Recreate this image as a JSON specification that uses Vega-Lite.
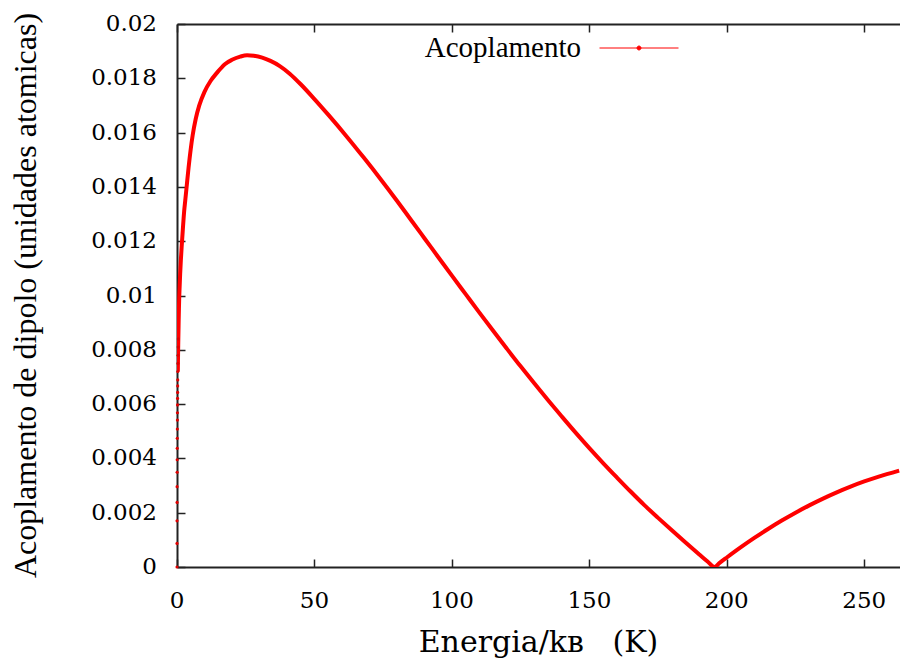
{
  "$schema": "https://vega.github.io/schema/vega-lite/v6.json",
  "width": 723,
  "height": 543,
  "autosize": {"type": "none"},
  "padding": {"left": 177, "top": 24, "right": 0, "bottom": 92},
  "background": "white",
  "config": {
    "view": {"stroke": null},
    "axis": {
      "domainColor": "#222222",
      "domainWidth": 2,
      "tickColor": "#222222",
      "tickWidth": 1.5,
      "grid": false
    },
    "legend": {
      "labelFont": "Liberation Serif, serif",
      "labelFontSize": 29,
      "labelColor": "#000000",
      "padding": 0
    }
  },
  "datasets": {
    "curve": [
      {"E": 0, "v": 0},
      {"E": 0.003, "v": 0.00087},
      {"E": 0.01, "v": 0.0017},
      {"E": 0.02, "v": 0.00238},
      {"E": 0.035, "v": 0.00296},
      {"E": 0.05, "v": 0.00349},
      {"E": 0.07, "v": 0.00395},
      {"E": 0.09, "v": 0.00437},
      {"E": 0.11, "v": 0.00474},
      {"E": 0.13, "v": 0.00508},
      {"E": 0.15, "v": 0.00541},
      {"E": 0.17, "v": 0.00568},
      {"E": 0.19, "v": 0.00597},
      {"E": 0.21, "v": 0.00621},
      {"E": 0.23, "v": 0.00643},
      {"E": 0.25, "v": 0.00667},
      {"E": 0.27, "v": 0.00689},
      {"E": 0.3, "v": 0.0072},
      {"E": 0.34, "v": 0.0075},
      {"E": 0.38, "v": 0.0078},
      {"E": 0.43, "v": 0.0081},
      {"E": 0.48, "v": 0.0084},
      {"E": 0.54, "v": 0.0087},
      {"E": 0.61, "v": 0.0091},
      {"E": 0.7, "v": 0.0095},
      {"E": 0.8, "v": 0.0099},
      {"E": 0.95, "v": 0.0103},
      {"E": 1.15, "v": 0.0108},
      {"E": 1.4, "v": 0.0113},
      {"E": 1.7, "v": 0.0118},
      {"E": 2.1, "v": 0.0124},
      {"E": 2.6, "v": 0.0131},
      {"E": 3.0, "v": 0.0135},
      {"E": 3.5, "v": 0.014},
      {"E": 4.2, "v": 0.0147},
      {"E": 5.0, "v": 0.0154},
      {"E": 5.7, "v": 0.0159},
      {"E": 6.8, "v": 0.0165},
      {"E": 8.1, "v": 0.017},
      {"E": 10, "v": 0.0175},
      {"E": 12.2, "v": 0.0179},
      {"E": 14.5, "v": 0.0182},
      {"E": 17.4, "v": 0.01852},
      {"E": 20, "v": 0.01868},
      {"E": 23, "v": 0.0188},
      {"E": 25.5, "v": 0.01885},
      {"E": 28, "v": 0.01883},
      {"E": 31, "v": 0.01876},
      {"E": 34, "v": 0.01864},
      {"E": 37.4, "v": 0.01845},
      {"E": 41, "v": 0.01817},
      {"E": 45, "v": 0.01778},
      {"E": 49.5, "v": 0.01729},
      {"E": 55, "v": 0.01666},
      {"E": 61.7, "v": 0.01586},
      {"E": 68, "v": 0.01507},
      {"E": 73.8, "v": 0.01432},
      {"E": 80, "v": 0.01349},
      {"E": 85, "v": 0.0128},
      {"E": 90, "v": 0.01211},
      {"E": 95, "v": 0.01142},
      {"E": 100, "v": 0.01073},
      {"E": 105, "v": 0.01005},
      {"E": 110, "v": 0.00937},
      {"E": 115, "v": 0.0087},
      {"E": 120, "v": 0.00804},
      {"E": 125, "v": 0.00739},
      {"E": 130, "v": 0.00676},
      {"E": 135, "v": 0.00614},
      {"E": 140, "v": 0.00554},
      {"E": 145, "v": 0.00495},
      {"E": 150, "v": 0.00438},
      {"E": 155, "v": 0.00383},
      {"E": 160, "v": 0.0033},
      {"E": 165, "v": 0.00278},
      {"E": 170, "v": 0.00228},
      {"E": 175, "v": 0.00181},
      {"E": 180, "v": 0.00135},
      {"E": 185, "v": 0.0009},
      {"E": 190, "v": 0.00046},
      {"E": 193, "v": 0.0002},
      {"E": 195.5, "v": 0},
      {"E": 197.5, "v": 0.00016},
      {"E": 200, "v": 0.00035},
      {"E": 205, "v": 0.00072},
      {"E": 210, "v": 0.00107},
      {"E": 215, "v": 0.0014},
      {"E": 220, "v": 0.00171},
      {"E": 225, "v": 0.002},
      {"E": 230, "v": 0.00227},
      {"E": 235, "v": 0.00252},
      {"E": 240, "v": 0.00275},
      {"E": 245, "v": 0.00296},
      {"E": 250, "v": 0.00315},
      {"E": 255, "v": 0.00332},
      {"E": 262.7, "v": 0.00355}
    ],
    "xticks": [{"t": 0}, {"t": 50}, {"t": 100}, {"t": 150}, {"t": 200}, {"t": 250}],
    "yticks": [{"t": 0}, {"t": 0.002}, {"t": 0.004}, {"t": 0.006}, {"t": 0.008}, {"t": 0.01}, {"t": 0.012}, {"t": 0.014}, {"t": 0.016}, {"t": 0.018}, {"t": 0.02}],
    "xtitle": [{"label": "Energia/kʙ\u00a0\u00a0\u00a0(K)", "E": 131.5, "v": 0}],
    "ytitle": [{"label": "Acoplamento de dipolo (unidades atomicas)", "E": 0, "v": 0.01}]
  },
  "layer": [
    {
      "data": {"name": "curve"},
      "transform": [{"filter": "datum.E >= 0.3"}],
      "mark": {"type": "line", "strokeWidth": 4, "clip": true, "interpolate": "monotone"},
      "encoding": {
        "x": {
          "field": "E",
          "type": "quantitative",
          "scale": {"domain": [0, 263], "nice": false, "zero": false},
          "axis": {
            "orient": "bottom",
            "values": [0, 50, 100, 150, 200, 250],
            "tickSize": -8,
            "labels": false,
            "title": null
          }
        },
        "y": {
          "field": "v",
          "type": "quantitative",
          "scale": {"domain": [0, 0.02], "nice": false},
          "axis": {
            "orient": "left",
            "values": [0, 0.002, 0.004, 0.006, 0.008, 0.01, 0.012, 0.014, 0.016, 0.018, 0.02],
            "tickSize": -8,
            "labels": false,
            "title": null
          }
        },
        "color": {
          "datum": "Acoplamento",
          "scale": {"range": ["#ff0000"]},
          "legend": {
            "title": null,
            "orient": "none",
            "legendX": 422,
            "legendY": -16,
            "symbolType": "M-1,0H1M-0.05,0A0.05,0.05,0,1,1,0.05,0A0.05,0.05,0,1,1,-0.05,0Z",
            "symbolSize": 6241,
            "symbolStrokeWidth": 1,
            "symbolFillColor": "#ff0000",
            "symbolStrokeColor": "#ff0000",
            "labelAlign": "right",
            "labelOffset": -98
          }
        }
      }
    },
    {
      "data": {"name": "curve"},
      "transform": [{"filter": "datum.E <= 0.5"}],
      "mark": {"type": "point", "filled": true, "color": "#e00000", "size": 10, "opacity": 1},
      "encoding": {
        "x": {
          "field": "E",
          "type": "quantitative",
          "axis": {
            "orient": "top",
            "values": [0, 50, 100, 150, 200, 250],
            "tickSize": -8,
            "labels": false,
            "title": null
          }
        },
        "y": {"field": "v", "type": "quantitative", "axis": null}
      }
    },
    {
      "data": {"name": "xticks"},
      "mark": {"type": "text", "font": "DejaVu Serif", "fontSize": 23, "color": "#000000", "align": "center", "baseline": "alphabetic", "dy": 41, "clip": false},
      "encoding": {
        "x": {"field": "t", "type": "quantitative", "axis": null},
        "y": {"datum": 0, "type": "quantitative", "axis": null},
        "text": {"field": "t", "type": "quantitative", "format": "~g"}
      }
    },
    {
      "data": {"name": "yticks"},
      "mark": {"type": "text", "font": "DejaVu Serif", "fontSize": 23, "color": "#000000", "align": "right", "baseline": "middle", "dx": -20, "clip": false},
      "encoding": {
        "x": {"datum": 0, "type": "quantitative", "axis": null},
        "y": {"field": "t", "type": "quantitative", "axis": null},
        "text": {"field": "t", "type": "quantitative", "format": "~g"}
      }
    },
    {
      "data": {"name": "xtitle"},
      "mark": {"type": "text", "font": "DejaVu Serif", "fontSize": 30, "color": "#000000", "align": "center", "baseline": "alphabetic", "dy": 85, "clip": false},
      "encoding": {
        "x": {"field": "E", "type": "quantitative", "axis": null},
        "y": {"field": "v", "type": "quantitative", "axis": null},
        "text": {"field": "label", "type": "nominal"}
      }
    },
    {
      "data": {"name": "ytitle"},
      "mark": {"type": "text", "font": "Liberation Serif, serif", "fontSize": 32, "color": "#000000", "align": "center", "baseline": "middle", "angle": 270, "dy": -151, "clip": false},
      "encoding": {
        "x": {"field": "E", "type": "quantitative", "axis": null},
        "y": {"field": "v", "type": "quantitative", "axis": null},
        "text": {"field": "label", "type": "nominal"}
      }
    }
  ],
  "resolve": {"axis": {"x": "independent", "y": "independent"}}
}
